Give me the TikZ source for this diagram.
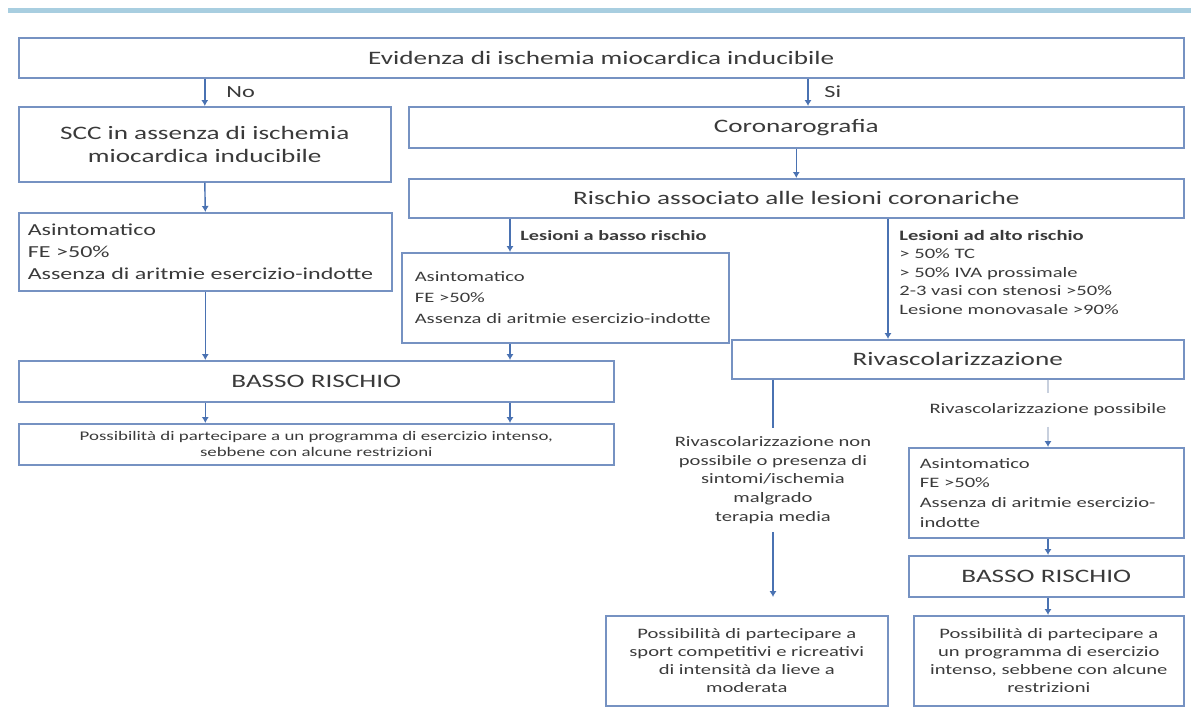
\documentclass[tikz,border=0pt]{standalone}
\usepackage{fontspec}
\setmainfont{Carlito}[FakeStretch=1.43]
\usetikzlibrary{arrows.meta, positioning}

\definecolor{boxline}{RGB}{118,146,194}
\definecolor{arrline}{RGB}{74,114,178}
\definecolor{softline}{RGB}{200,208,222}
\definecolor{txt}{RGB}{58,58,58}
\definecolor{band}{RGB}{168,206,224}

\begin{document}
\begin{tikzpicture}[x=0.5pt, y=-0.5pt,
  box/.style={draw=boxline, line width=0.8pt, anchor=north west, inner sep=0pt,
    text=txt, align=center},
  big/.style={font=\fontsize{9.5}{11.5}\selectfont},
  midtxt/.style={font=\fontsize{7.2}{9.2}\selectfont},
  small/.style={font=\fontsize{6.6}{8}\selectfont},
  lbl/.style={text=txt, inner sep=1pt},
  arr/.style={draw=arrline, line width=0.7pt, -{Latex[length=3pt,width=3.6pt]}},
  plain/.style={draw=arrline, line width=0.7pt},
  soft/.style={draw=softline, line width=0.9pt}]
  \def\px{0.5pt}

  \useasboundingbox (0,0) rectangle (1191,713);

  % top band
  \draw[band, line width=2.5pt] (8,10) -- (1191,10);

  % first row
  \node[box, big, minimum width=1165*\px, minimum height=40*\px] (evid) at (18,37)
    {Evidenza di ischemia miocardica inducibile};
  \node[box, big, minimum width=372*\px, minimum height=75*\px] (scc) at (18,106)
    {SCC in assenza di ischemia\\miocardica inducibile};
  \node[box, big, minimum width=775*\px, minimum height=41*\px] (coro) at (408,106)
    {Coronarografia};
  \node[box, big, minimum width=775*\px, minimum height=39*\px] (risc) at (408,178)
    {Rischio associato alle lesioni coronariche};

  % left branch
  \node[box, font=\fontsize{8.4}{11}\selectfont, align=left, text width=177.5pt,
    inner xsep=4.5pt, minimum height=78*\px] (lasint) at (18,212)
    {Asintomatico\\FE >50\%\\Assenza di aritmie esercizio-indotte};
  \node[box, midtxt, align=left, text width=150.5pt, inner xsep=6.5pt,
    font=\fontsize{7.2}{10.4}\selectfont, minimum height=90*\px] (masint) at (401,252)
    {Asintomatico\\FE >50\%\\Assenza di aritmie esercizio-indotte};
  \node[box, big, minimum width=595*\px, minimum height=41*\px] (lbasso) at (18,360)
    {BASSO RISCHIO};
  \node[box, small, minimum width=595*\px, minimum height=41*\px] (lposs) at (18,423)
    {Possibilità di partecipare a un programma di esercizio intenso,\\sebbene con alcune restrizioni};

  % right branch
  \node[box, big, minimum width=452*\px, minimum height=39*\px] (rivasc) at (731,339)
    {Rivascolarizzazione};
  \node[box, align=left, text width=126.5pt, inner xsep=5.5pt,
    font=\fontsize{7.2}{9.8}\selectfont, minimum height=90*\px] (rasint) at (908,447)
    {Asintomatico\\FE >50\%\\Assenza di aritmie esercizio-\\indotte};
  \node[box, big, minimum width=275*\px, minimum height=41*\px] (rbasso) at (908,555)
    {BASSO RISCHIO};
  \node[box, midtxt, font=\fontsize{7.2}{9}\selectfont, minimum width=282*\px,
    minimum height=90*\px] (bposs) at (605,615)
    {Possibilità di partecipare a\\sport competitivi e ricreativi\\di intensità da lieve a\\moderata};
  \node[box, midtxt, font=\fontsize{7.2}{9}\selectfont, minimum width=270*\px,
    minimum height=90*\px] (rposs) at (913,615)
    {Possibilità di partecipare a\\un programma di esercizio\\intenso, sebbene con alcune\\restrizioni};

  % labels
  \node[lbl, anchor=west, font=\fontsize{8.5}{10}\selectfont] (nolbl) at (224,92) {No};
  \node[lbl, anchor=west, font=\fontsize{8.5}{10}\selectfont] (silbl) at (822,92) {Si};
  \node[lbl, anchor=west, font=\fontsize{7.1}{9}\selectfont\bfseries] (lowlbl) at (518,236)
    {Lesioni a basso rischio};
  \node[lbl, anchor=north west, align=left, font=\fontsize{7.2}{9.2}\selectfont] (highlbl) at (897,228)
    {\textbf{Lesioni ad alto rischio}\\> 50\% TC\\> 50\% IVA prossimale\\2-3 vasi con stenosi >50\%\\Lesione monovasale >90\%};
  \node[lbl, align=center, inner ysep=4pt, font=\fontsize{7.2}{9.3}\selectfont] (nonrev) at (773,480)
    {Rivascolarizzazione non\\possibile o presenza di\\sintomi/ischemia\\malgrado\\terapia media};
  \node[lbl, inner ysep=5pt, font=\fontsize{7.2}{9}\selectfont] (okrev) at (1048,410)
    {Rivascolarizzazione possibile};

  \coordinate (sicol) at (808,0);
  \coordinate (lowcol) at (510,0);
  \coordinate (highcol) at (888,0);

  % connectors
  \draw[arr] (evid.south -| scc.north) -- (scc.north);
  \draw[arr] (evid.south -| sicol) -- (coro.north -| sicol);
  \draw[arr] (coro.south) -- (risc.north);
  \draw[arr] (scc.south) -- (lasint.north);
  \draw[arr] (lasint.south) -- (lbasso.north -| lasint.south);
  \draw[arr] (lbasso.south -| lasint.south) -- (lposs.north -| lasint.south);
  \draw[arr] (risc.south -| lowcol) -- (masint.north -| lowcol);
  \draw[arr] (masint.south -| lowcol) -- (lbasso.north -| lowcol);
  \draw[arr] (lbasso.south -| lowcol) -- (lposs.north -| lowcol);
  \draw[arr] (risc.south -| highcol) -- (rivasc.north -| highcol);
  \draw[plain] (rivasc.south -| nonrev) -- (nonrev.north);
  \draw[arr, shorten >=9pt] (nonrev.south) -- (bposs.north -| nonrev);
  \draw[soft] (rivasc.south -| okrev) -- (okrev.north);
  \draw[soft, -{Latex[length=3pt,width=3.6pt,color=arrline]}] (okrev.south) -- (rasint.north -| okrev);
  \draw[arr] (rasint.south -| okrev) -- (rbasso.north -| okrev);
  \draw[arr] (rbasso.south -| okrev) -- (rposs.north -| okrev);
\end{tikzpicture}
\end{document}
